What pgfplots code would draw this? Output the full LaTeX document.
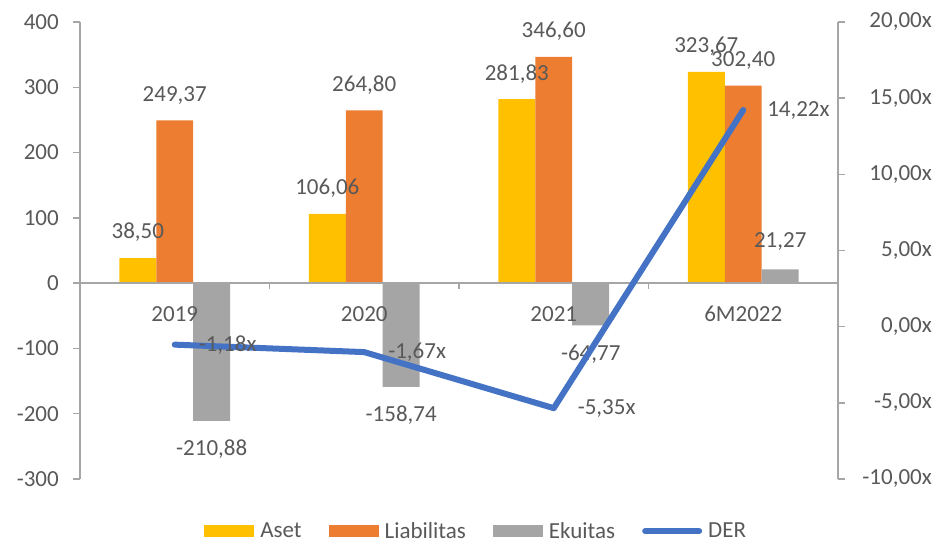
\documentclass[border=0pt]{standalone}
\usepackage{pgfplots}
\pgfplotsset{compat=1.18}
\usepackage{fontspec}
\setmainfont{Carlito}
\definecolor{aset}{HTML}{FFC000}
\definecolor{liab}{HTML}{ED7D31}
\definecolor{ekui}{HTML}{A5A5A5}
\definecolor{der}{HTML}{4472C4}
\definecolor{txt}{HTML}{595959}
\definecolor{axl}{HTML}{A6A6A6}
\pgfplotsset{
  base/.style={
    at={(80pt,64pt)}, anchor=south west,
    width=758pt, height=457pt, scale only axis,
    xmin=-0.5, xmax=3.5,
    /pgf/number format/assume math mode=true,
    axis line style={draw=axl, line width=1.5pt},
    every tick/.style={draw=axl, line width=1.5pt},
    major tick length=7pt, minor tick length=6pt,
    tick label style={text=txt},
    clip=false,
  },
  barleg/.style={legend image code/.code={\fill[##1] (0pt,-6pt) rectangle (50pt,6pt);}},
  lineleg/.style={legend image code/.code={\draw[##1, line cap=round] (2pt,0pt) -- (56pt,0pt);}},
}
\begin{document}
\begin{tikzpicture}[font=\fontsize{23}{27}\selectfont]
\path[use as bounding box] (0,0) rectangle (936pt,543pt);
\begin{axis}[base,
  axis on top,
  ymin=-300, ymax=400, ytick={-300,-200,...,400},
  axis y line*=left, axis x line*=middle,
  xtick={0,1,2,3}, xticklabels={2019,2020,2021,6M2022},
  minor xtick={0.5,1.5,2.5},
  xtick align=outside, ytick align=outside,
  major x tick style={draw=none},
  xticklabel style={anchor=north, inner sep=0pt, yshift=-16pt},
  yticklabel style={anchor=east, inner sep=0pt, xshift=-14pt},
  ybar,
  bar width=0.195,
  nodes near coords={\pgfmathprintnumber[fixed,fixed zerofill,precision=2,use comma]{\pgfplotspointmeta}},
  every node near coord/.append style={text=txt},
]
\addplot[fill=aset, draw=none, bar shift=-0.195, every node near coord/.append style={inner ysep=16pt}]
  coordinates {(0,38.50) (1,106.06) (2,281.83) (3,323.67)};
\addplot[fill=liab, draw=none, bar shift=0, every node near coord/.append style={inner ysep=16pt}]
  coordinates {(0,249.37) (1,264.80) (2,346.60) (3,302.40)};
\addplot[fill=ekui, draw=none, bar shift=0.195, every node near coord/.append style={inner ysep=19pt}]
  coordinates {(0,-210.88) (1,-158.74) (2,-64.77) (3,21.27)};
\end{axis}
\begin{axis}[base,
  ymin=-10, ymax=20, ytick={-10,-5,...,20},
  axis y line*=right, axis x line=none,
  ytick align=outside,
  yticklabel={\pgfmathprintnumber[fixed,fixed zerofill,precision=2,use comma]{\tick}x},
  yticklabel style={anchor=east, inner sep=0pt, xshift=87pt},
  legend columns=4,
  legend style={at={(0.522,-0.114)}, anchor=center, draw=none, fill=none, text=txt,
    /tikz/every odd column/.append style={column sep=5pt},
    /tikz/every even column/.append style={column sep=26pt},
    nodes={inner sep=1pt}},
]
\addlegendimage{barleg, fill=aset, draw=none}
\addlegendentry{Aset}
\addlegendimage{barleg, fill=liab, draw=none}
\addlegendentry{Liabilitas}
\addlegendimage{barleg, fill=ekui, draw=none}
\addlegendentry{Ekuitas}
\addplot[lineleg, draw=der, line width=6pt, line join=round, line cap=round, mark=none,
  nodes near coords={\pgfmathprintnumber[fixed,fixed zerofill,precision=2,use comma]{\pgfplotspointmeta}x},
  every node near coord/.append style={anchor=west, inner sep=0pt, xshift=21pt, text=txt}]
  coordinates {(0,-1.18) (1,-1.67) (2,-5.35) (3,14.22)};
\addlegendentry{DER}
\end{axis}
\end{tikzpicture}
\end{document}
